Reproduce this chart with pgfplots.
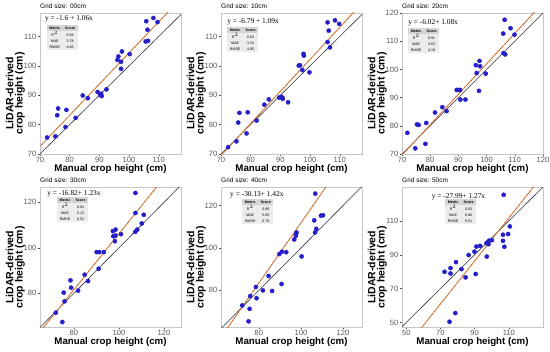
\documentclass[border=0pt]{standalone}
\usepackage[table]{xcolor}
\usepackage{pgfplots}
\pgfplotsset{compat=1.18}
\usepackage{fontspec}
\setmainfont{Liberation Sans}
\newfontfamily\serifeq{Liberation Serif}
\definecolor{ptblue}{RGB}{38,30,200}
\definecolor{regc}{RGB}{205,140,70}
\definecolor{regd}{RGB}{225,95,55}
\definecolor{idc}{RGB}{55,50,65}
\definecolor{hdr}{RGB}{212,212,212}
\definecolor{rowc}{RGB}{236,236,236}
\newcommand{\mtable}[3]{{\fontsize{3.6}{4.6}\selectfont\setlength{\tabcolsep}{2.6pt}\renewcommand{\arraystretch}{1.3}%
\begin{tabular}{cc}\rowcolor{hdr}\textbf{Metric} & \textbf{Score}\\
\rowcolor{rowc} R$^2$ & #1\\
\rowcolor{rowc} MAE & #2\\
\rowcolor{rowc} RMSE & #3\\
\end{tabular}}}
\newcommand{\eqn}[1]{{\serifeq\fontsize{7.4}{8}\selectfont #1}}
\pgfplotsset{
  panel/.style={
    scale only axis, width=141pt, height=140pt,
    axis line style={gray!45, line width=0.5pt},
    tick style={gray!60!black, line width=0.4pt},
    major tick length=2pt,
    tick align=outside,
    xtick pos=bottom, ytick pos=left,
    ticklabel style={font=\fontsize{7.6}{8}\selectfont, text=gray!70!black},
    xticklabel style={inner sep=0.8pt},
    yticklabel style={inner sep=1.5pt},
    /pgf/number format/assume math mode=true,
    xlabel={Manual crop height (cm)},
    ylabel={LiDAR-derived\\crop height (cm)},
    xlabel style={font=\bfseries\fontsize{9.7}{11}\selectfont, at={(axis description cs:0.5,0)}, anchor=center, yshift=-14.8pt, inner sep=0pt},
    ylabel style={font=\bfseries\fontsize{10.5}{9.4}\selectfont, align=center, at={(axis description cs:-0.175,0.43)}, anchor=center},
    title style={font=\fontsize{6.5}{7}\selectfont, at={(axis description cs:0,1)}, anchor=west, yshift=1pt, inner sep=0pt},
  },
  pts/.style={only marks, mark=*, mark size=2.1pt, color=ptblue, mark options={fill=ptblue, draw=ptblue}},
  idl/.style={idc, line width=0.6pt, no marks},
  regl/.style={regc, line width=0.9pt, no marks},
  regdl/.style={regd, line width=0.45pt, dash pattern=on 2.5pt off 2pt, no marks},
}
\begin{document}
\begin{tikzpicture}
\path[use as bounding box] (0,0) rectangle (550pt,352pt);
% ---------- Panel 1
\begin{axis}[panel, at={(40pt,198pt)}, anchor=south west, height=141pt,
  title={Grid size: 00cm},
  xmin=70, xmax=117.5, ymin=70, ymax=118,
  xtick={70,80,90,100,110}, ytick={70,80,90,100,110}]
\addplot[idl] coordinates {(40,40)(140,140)};
\addplot[regl] coordinates {(65,67.3)(120,125.6)};
\addplot[regdl] coordinates {(65,67.3)(120,125.6)};
\addplot[pts] coordinates {(72.4,75.6)(75.2,76.0)(75.8,83.2)(76.1,85.5)(78.6,79.2)(78.9,85.0)(82.0,82.3)(84.4,89.9)(86.1,89.0)(89.4,91.1)(90.3,90.1)(90.6,90.5)(90.8,89.7)(92.4,92.0)(96.1,102.0)(96.4,103.2)(97.3,101.4)(97.6,104.9)(97.3,99.0)(100.2,104.0)(105.8,115.2)(106.2,112.3)(105.6,108.3)(106.4,108.5)(108.2,116.3)(109.6,114.9)};
\node[anchor=north west, inner sep=0pt] at (rel axis cs:0.035,0.985) {\eqn{y = -1.6 + 1.06x}};
\node[anchor=north west, inner sep=0pt] at (rel axis cs:0.047,0.915) {\mtable{0.94}{3.78}{4.66}};
\end{axis}
% ---------- Panel 2
\begin{axis}[panel, at={(221pt,198pt)}, anchor=south west, height=141pt,
  title={Grid size: 10cm},
  xmin=70, xmax=117.5, ymin=70, ymax=118,
  xtick={70,80,90,100,110}, ytick={70,80,90,100,110}]
\addplot[idl] coordinates {(40,40)(140,140)};
\addplot[regl] coordinates {(65,64.06)(120,124.01)};
\addplot[regdl] coordinates {(65,64.06)(120,124.01)};
\addplot[pts] coordinates {(72.4,72.3)(75.2,74.3)(75.8,80.7)(76.2,84.0)(78.6,77.0)(79.0,84.2)(82.0,81.4)(84.6,86.8)(86.1,88.6)(89.6,89.2)(90.3,89.4)(90.7,89.2)(90.8,88.8)(92.6,87.6)(96.2,100.1)(96.6,100.2)(97.4,98.6)(97.8,104.1)(97.9,103.5)(99.8,97.8)(105.9,114.8)(106.3,112.0)(105.9,108.1)(106.7,106.3)(108.4,115.5)(109.8,114.3)};
\node[anchor=north west, inner sep=0pt] at (rel axis cs:0.043,0.965) {\eqn{y = -6.79 + 1.09x}};
\node[anchor=north west, inner sep=0pt] at (rel axis cs:0.043,0.9) {\mtable{0.93}{3.34}{4.05}};
\end{axis}
% ---------- Panel 3
\begin{axis}[panel, at={(402pt,198pt)}, anchor=south west, height=141pt,
  title={Grid size: 20cm},
  xmin=70, xmax=120, ymin=70, ymax=120,
  xtick={70,80,90,100,110,120}, ytick={70,80,90,100,110,120}]
\addplot[idl] coordinates {(40,40)(140,140)};
\addplot[regl] coordinates {(65,64.18)(125,128.98)};
\addplot[regdl] coordinates {(65,64.18)(125,128.98)};
\addplot[pts] coordinates {(71.9,77.5)(74.7,72.0)(75.3,80.5)(75.9,80.3)(78.3,73.6)(78.6,81.0)(81.7,84.7)(84.3,86.6)(85.8,85.2)(89.4,92.7)(90.2,92.7)(90.6,92.7)(90.7,89.3)(92.5,89.3)(96.2,101.5)(96.5,98.7)(97.5,103.0)(97.7,101.1)(97.3,92.4)(99.7,98.5)(105.9,112.7)(106.4,117.6)(106.0,105.8)(106.6,105.3)(108.5,114.6)(109.9,112.3)};
\node[anchor=north west, inner sep=0pt] at (rel axis cs:0.043,0.957) {\eqn{y = -6.02+ 1.08x}};
\node[anchor=north west, inner sep=0pt] at (rel axis cs:0.043,0.894) {\mtable{0.91}{3.63}{4.19}};
\end{axis}
% ---------- Panel 4
\begin{axis}[panel, at={(40pt,24.5pt)}, anchor=south west,
  title={Grid size: 30cm},
  xmin=65, xmax=127.5, ymin=65, ymax=126.5,
  xtick={80,100,120}, ytick={80,100,120}]
\addplot[idl] coordinates {(40,40)(140,140)};
\addplot[regl] coordinates {(60,56.98)(130,143.08)};
\addplot[regdl] coordinates {(60,56.98)(130,143.08)};
\addplot[pts] coordinates {(72.0,71.5)(74.9,67.4)(75.5,80.3)(75.9,76.5)(78.5,85.7)(78.8,82.5)(81.9,81.2)(84.8,88.2)(86.3,85.4)(90.1,98.1)(91.3,98.1)(91.0,90.8)(93.3,98.1)(97.3,107.3)(97.5,105.1)(98.5,108.0)(98.5,105.4)(98.2,102.9)(100.9,106.0)(107.3,124.1)(107.3,115.3)(107.2,107.0)(108.1,108.0)(110.1,110.7)(111.0,114.5)};
\node[anchor=north west, inner sep=0pt] at (rel axis cs:0.05,0.98) {\eqn{y = -16.82+ 1.23x}};
\node[anchor=north west, inner sep=0pt] at (rel axis cs:0.12,0.93) {\mtable{0.91}{5.13}{6.52}};
\end{axis}
% ---------- Panel 5
\begin{axis}[panel, at={(221pt,24.5pt)}, anchor=south west,
  title={Grid size: 40cm},
  xmin=62, xmax=129, ymin=62.5, ymax=128.5,
  xtick={80,100,120}, ytick={80,100,120}]
\addplot[idl] coordinates {(40,40)(140,140)};
\addplot[regl] coordinates {(60,55.07)(130,154.47)};
\addplot[regdl] coordinates {(60,55.07)(130,154.47)};
\addplot[pts] coordinates {(72.1,72.9)(75.1,65.4)(75.6,71.3)(75.9,77.3)(78.6,81.6)(78.9,76.3)(81.9,80.0)(84.6,86.8)(86.3,79.7)(89.7,97.1)(90.9,98.2)(90.8,83.0)(93.0,98.0)(96.8,104.0)(97.6,106.3)(97.9,107.3)(97.6,105.7)(100.3,96.0)(106.8,125.6)(106.3,113.0)(106.7,107.3)(107.3,109.0)(109.5,115.2)(110.5,115.4)};
\node[anchor=north west, inner sep=0pt] at (rel axis cs:0.064,0.97) {\eqn{y = -30.13+ 1.42x}};
\node[anchor=north west, inner sep=0pt] at (rel axis cs:0.15,0.92) {\mtable{0.90}{5.65}{6.78}};
\end{axis}
% ---------- Panel 6
\begin{axis}[panel, at={(402pt,24.5pt)}, anchor=south west,
  title={Grid size: 50cm},
  xmin=47.5, xmax=130, ymin=47, ymax=129.7,
  xtick={50,70,90,110}, ytick={50,70,90,110}]
\addplot[idl] coordinates {(40,40)(140,140)};
\addplot[regl] coordinates {(45,29.16)(135,143.46)};
\addplot[regdl] coordinates {(45,29.16)(135,143.46)};
\addplot[pts] coordinates {(72.4,79.9)(75.3,50.4)(75.9,82.1)(75.9,78.9)(78.7,55.5)(79.1,85.6)(82.3,81.5)(84.7,76.6)(86.5,89.8)(89.9,91.8)(91.0,94.8)(90.6,78.6)(93.2,95.2)(96.9,96.8)(97.7,97.4)(98.1,96.2)(98.5,98.3)(97.1,88.9)(100.1,98.6)(107.0,125.4)(106.6,101.8)(106.6,98.2)(107.4,94.7)(109.6,102.2)(110.6,106.7)};
\node[anchor=north west, inner sep=0pt] at (rel axis cs:0.21,0.955) {\eqn{y = -27.99+ 1.27x}};
\node[anchor=north west, inner sep=0pt] at (rel axis cs:0.305,0.92) {\mtable{0.63}{6.86}{9.51}};
\end{axis}
\end{tikzpicture}
\end{document}
